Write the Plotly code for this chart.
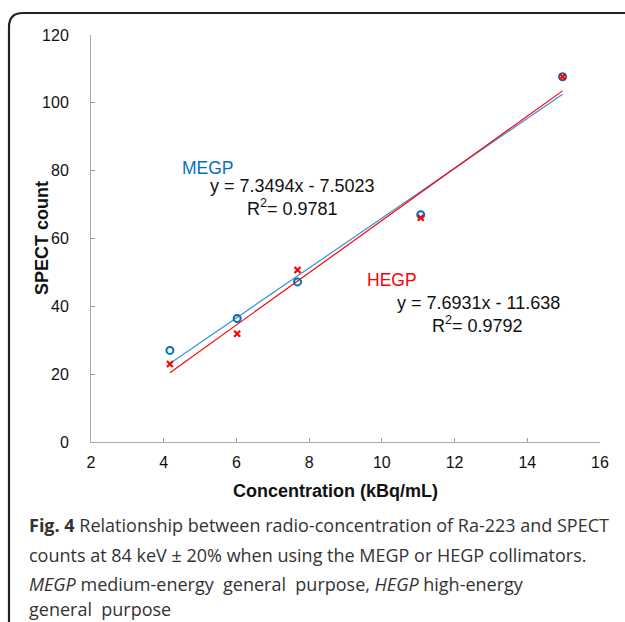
import plotly.graph_objects as go

# ---- data ----
concentration = [4.17, 6.02, 7.68, 11.07, 14.97]
megp_counts = [27.0, 36.4, 47.2, 67.0, 107.7]
hegp_counts = [23.0, 31.9, 50.7, 66.1, 107.7]
megp_fit = {"slope": 7.3494, "intercept": -7.5023, "r2": 0.9781}
hegp_fit = {"slope": 7.6931, "intercept": -11.638, "r2": 0.9792}
x_ticks = [2, 4, 6, 8, 10, 12, 14, 16]
y_ticks = [0, 20, 40, 60, 80, 100, 120]

W, H = 625, 622
L, R, T, B = 91, 600, 35, 442
BLUE = "#0072BD"
BLUE_LINE = "#3d8fd8"
RED = "#ff0000"
FONT = "Liberation Sans, Arial, sans-serif"
CAP_FONT = "Open Sans, Noto Sans, sans-serif"


def px(xp):
    return (xp - L) / (R - L)


def py(yp):
    return (B - yp) / (B - T)


fig = go.Figure()

xfit = [min(concentration), max(concentration)]
fig.add_trace(go.Scatter(
    x=xfit, y=[megp_fit["slope"] * v + megp_fit["intercept"] for v in xfit],
    mode="lines", line=dict(color=BLUE_LINE, width=1.2), showlegend=False))
fig.add_trace(go.Scatter(
    x=xfit, y=[hegp_fit["slope"] * v + hegp_fit["intercept"] for v in xfit],
    mode="lines", line=dict(color=RED, width=1.2), showlegend=False))
fig.add_trace(go.Scatter(
    x=concentration, y=megp_counts, mode="markers",
    marker=dict(symbol="circle-open", size=7, color=BLUE, line=dict(width=2)),
    showlegend=False))
fig.add_trace(go.Scatter(
    x=concentration, y=hegp_counts, mode="markers",
    marker=dict(symbol="x-thin-open", size=6, color=RED, line=dict(width=2.2, color=RED)),
    showlegend=False))

ann = []


def txt(x, y, s, color="#111", size=18, xanchor="left"):
    ann.append(dict(x=x, y=y, xref="x", yref="y", text=s, showarrow=False,
                    xanchor=xanchor, yanchor="middle",
                    font=dict(family=FONT, size=size, color=color)))


txt(4.448, 80.8, "MEGP", BLUE, 17.5)
txt(5.218, 75.5, f"y = {megp_fit['slope']}x - {abs(megp_fit['intercept']):.4f}")
txt(6.236, 69.0, f"R<sup>2</sup>= {megp_fit['r2']}")
txt(9.536, 47.8, "HEGP", RED, 17.5)
txt(10.36, 41.0, f"y = {hegp_fit['slope']}x - {abs(hegp_fit['intercept']):.3f}")
txt(11.32, 34.5, f"R<sup>2</sup>= {hegp_fit['r2']}")

# axis titles
ann.append(dict(x=px(335), y=py(491), xref="paper", yref="paper",
                text="<b>Concentration (kBq/mL)</b>", showarrow=False,
                xanchor="center", yanchor="middle",
                font=dict(family=FONT, size=18, color="#111")))
ann.append(dict(x=px(42), y=py(238), xref="paper", yref="paper",
                text="<b>SPECT count</b>", showarrow=False, textangle=-90,
                xanchor="center", yanchor="middle",
                font=dict(family=FONT, size=18, color="#111")))

cap_lines = [
    "<b>Fig. 4</b> Relationship between radio-concentration of Ra-223 and SPECT",
    "counts at 84 keV ± 20% when using the MEGP or HEGP collimators.",
    "<i>MEGP</i> medium-energy  general  purpose, <i>HEGP</i> high-energy",
    "general  purpose",
]
cap_y = [525, 555, 584, 609]
for s, yy in zip(cap_lines, cap_y):
    ann.append(dict(x=px(27), y=py(yy), xref="paper", yref="paper", text=s,
                    showarrow=False, xanchor="left", yanchor="middle",
                    font=dict(family=CAP_FONT, size=18, color="#333")))

# rounded frame (left + top edges)
r = 14
x0, y0 = 9, 13
path = (f"M {px(x0)},{py(H + 20)} L {px(x0)},{py(y0 + r)} "
        f"Q {px(x0)},{py(y0)} {px(x0 + r)},{py(y0)} L {px(W + 20)},{py(y0)}")

fig.update_layout(
    width=W, height=H,
    margin=dict(l=L, r=W - R, t=T, b=H - B, autoexpand=False),
    paper_bgcolor="white", plot_bgcolor="white",
    annotations=ann,
    shapes=[dict(type="path", path=path, xref="paper", yref="paper",
                 line=dict(color="#222", width=2.2))],
    xaxis=dict(range=[2, 16], tickvals=x_ticks, ticks="inside", ticklen=4,
               tickcolor="#999", showline=True, linecolor="#aaa", linewidth=1,
               showgrid=False, zeroline=False, ticklabelstandoff=6,
               tickfont=dict(family=FONT, size=16, color="#111")),
    yaxis=dict(range=[0, 120], tickvals=y_ticks, ticks="inside", ticklen=4,
               tickcolor="#999", showline=True, linecolor="#aaa", linewidth=1,
               showgrid=False, zeroline=False, ticklabelstandoff=18,
               tickfont=dict(family=FONT, size=16, color="#111")),
)

fig.write_html("out.html", config={"displayModeBar": False},
               post_script="document.body.style.margin='0';document.body.style.overflow='hidden';")
